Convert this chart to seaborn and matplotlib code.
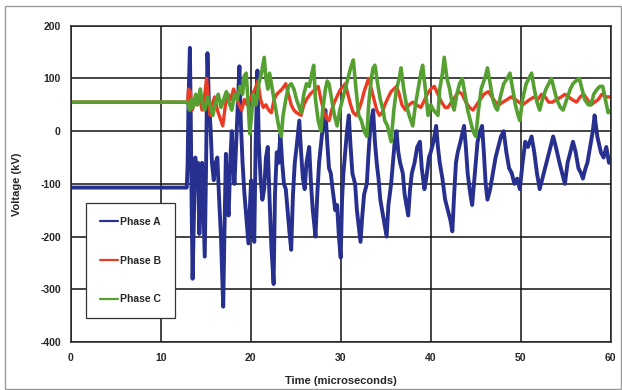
import numpy as np
import pandas as pd
import matplotlib
matplotlib.use("Agg")
import matplotlib.pyplot as plt
import seaborn as sns
from matplotlib.patches import Rectangle

# ---------------- data ----------------
phase_a_t = [0, 12.9, 13.0, 13.1, 13.25, 13.35, 13.45, 13.55, 13.7, 13.85, 14.0, 14.15, 14.3, 14.45, 14.6, 14.75,
             14.9, 15.05, 15.2, 15.35, 15.55, 15.7, 15.9, 16.1, 16.3, 16.5, 16.7, 16.95, 17.1, 17.25, 17.4, 17.55,
             17.75, 17.9, 18.05, 18.2, 18.4, 18.6, 18.75, 18.9, 19.1, 19.3, 19.5, 19.75, 19.9, 20.05, 20.2, 20.4,
             20.55, 20.75, 20.9, 21.1, 21.3, 21.5, 21.7, 21.9, 22.1, 22.3, 22.55, 22.7, 22.9, 23.1, 23.3, 23.5,
             23.7, 23.9, 24.1, 24.3, 24.5, 24.7, 24.9, 25.1, 25.4, 25.6, 25.8, 26.0, 26.2, 26.5, 26.7, 26.9,
             27.2, 27.4, 27.6, 27.9, 28.1, 28.3, 28.5, 28.7, 28.9, 29.1, 29.4, 29.6, 29.8, 30.0, 30.15, 30.3,
             30.5, 30.7, 30.9, 31.1, 31.3, 31.6, 31.8, 32.0, 32.2, 32.4, 32.6, 32.9, 33.1, 33.3, 33.6, 33.8,
             34.0, 34.2, 34.4, 34.7, 35.1, 35.3, 35.6, 35.8, 36.0, 36.2, 36.4, 36.6, 36.9, 37.1, 37.3, 37.5,
             37.7, 37.9, 38.2, 38.5, 38.8, 39.0, 39.3, 39.5, 39.8, 40.0, 40.3, 40.6, 40.8, 41.0, 41.3, 41.6,
             41.9, 42.2, 42.4, 42.6, 42.8, 43.0, 43.3, 43.7, 43.9, 44.1, 44.4, 44.6, 44.8, 45.0, 45.2, 45.5,
             45.7, 45.9, 46.1, 46.3, 46.6, 46.9, 47.2, 47.5, 47.8, 48.1, 48.4, 48.7, 49.0, 49.3, 49.6, 49.9,
             50.2, 50.5, 50.8, 51.2, 51.5, 51.8, 52.1, 52.4, 52.7, 53.0, 53.3, 53.6, 53.9, 54.3, 54.6, 54.9,
             55.2, 55.5, 55.8, 56.1, 56.4, 56.7, 56.9, 57.2, 57.4, 57.7, 58.0, 58.2, 58.5, 58.9, 59.2, 59.5,
             59.8, 60.0]
phase_a_v = [-107, -107, -60, 60, 158, 20, -150, -280, -160, -50, -90, -60, -195, -120, -60, -150,
             -238, -60, 148, 60, 5, -60, -93, -60, -50, -130, -200, -333, -180, -43, -120, -160,
             -50, 0, -60, -100, -20, 60, 123, 20, -60, -117, -160, -213, -150, -93, -160, -210,
             -30, 115, -20, -90, -130, -110, -50, -30, -130, -220, -290, -120, -40, -60, -5, -60,
             -100, -110, -150, -190, -225, -120, -60, -30, 20, -40, -90, -110, -60, -30, -100, -150,
             -200, -120, -60, -10, 20, 40, -20, -70, -80, -110, -150, -140, -200, -240, -130, -80,
             -40, 0, 30, -30, -80, -100, -150, -180, -210, -160, -120, -100, -40, 10, 40, -20,
             -60, -90, -130, -160, -200, -140, -100, -60, -20, 0, -40, -60, -80, -120, -140, -160,
             -110, -80, -60, -30, -20, -70, -110, -90, -50, -40, -20, 10, -30, -60, -90, -130,
             -150, -170, -190, -120, -60, -40, -20, 10, -30, -80, -120, -140, -100, -60, -20, 0,
             10, -40, -100, -130, -110, -80, -50, -30, -10, 0, -40, -70, -80, -100, -90, -110,
             -60, -20, -30, -10, -40, -80, -110, -90, -70, -50, -30, -10, -30, -60, -80, -100,
             -60, -40, -20, -40, -70, -80, -90, -70, -60, -30, 0, 30, -10, -40, -50, -30,
             -60, -50]

phase_b_t = [0, 13.0, 13.1, 13.3, 13.5, 13.8, 14.0, 14.3, 14.6, 14.9, 15.1, 15.3, 15.5, 15.7, 16.0, 16.3,
             16.6, 16.9, 17.2, 17.5, 17.8, 18.1, 18.4, 18.7, 19.0, 19.3, 19.6, 19.9, 20.2, 20.5, 20.8, 21.1,
             21.4, 21.7, 22.0, 22.3, 22.6, 22.9, 23.2, 23.5, 23.9, 24.2, 24.5, 24.8, 25.1, 25.6, 25.9, 26.2,
             26.6, 26.9, 27.2, 27.5, 27.8, 28.1, 28.4, 28.7, 29.0, 29.3, 29.7, 30.0, 30.3, 30.5, 30.8, 31.1,
             31.4, 31.7, 32.0, 32.3, 32.6, 32.9, 33.1, 33.4, 33.7, 34.0, 34.3, 34.6, 34.9, 35.3, 35.6, 35.9,
             36.2, 36.5, 36.8, 37.2, 37.6, 38.0, 38.4, 38.9, 39.2, 39.6, 40.0, 40.4, 40.8, 41.2, 41.6, 41.9,
             42.3, 42.7, 43.1, 43.5, 43.9, 44.3, 44.7, 45.1, 45.5, 45.9, 46.4, 46.8, 47.2, 47.6, 48.0, 48.5,
             48.9, 49.4, 49.8, 50.2, 50.6, 51.0, 51.5, 51.9, 52.3, 52.7, 53.1, 53.5, 54.0, 54.5, 54.9, 55.3,
             55.7, 56.2, 56.6, 57.0, 57.4, 57.8, 58.2, 58.6, 59.0, 59.5, 60.0]
phase_b_v = [55, 55, 80, 75, 40, 55, 50, 65, 40, 70, 100, 60, 30, 50, 65, 40,
             25, 10, 50, 70, 60, 80, 65, 50, 40, 60, 50, 60, 70, 80, 95, 60,
             45, 50, 40, 35, 60, 70, 75, 80, 90, 70, 50, 40, 35, 30, 50, 60,
             70, 75, 80, 85, 60, 40, 25, 20, 40, 55, 70, 80, 85, 90, 70, 50,
             35, 30, 40, 55, 75, 90, 100, 80, 60, 40, 30, 35, 50, 65, 75, 80,
             85, 70, 50, 40, 50, 55, 50, 45, 55, 70, 80, 85, 70, 55, 45, 45,
             55, 65, 75, 70, 55, 45, 40, 50, 60, 70, 75, 65, 55, 50, 55, 60,
             65, 60, 55, 50, 55, 60, 65, 60, 70, 65, 55, 55, 60, 65, 70, 65,
             60, 55, 65, 70, 60, 50, 55, 60, 70, 65, 65]

phase_c_t = [0, 13.0, 13.2, 13.4, 13.6, 13.9, 14.1, 14.4, 14.6, 14.9, 15.2, 15.5, 15.8, 16.1, 16.4, 16.7,
             17.0, 17.3, 17.6, 17.9, 18.2, 18.5, 18.8, 19.1, 19.3, 19.5, 19.7, 19.9, 20.1, 20.3, 20.6, 20.9,
             21.2, 21.5, 21.7, 21.9, 22.1, 22.3, 22.6, 22.9, 23.1, 23.4, 23.6, 23.9, 24.2, 24.5, 24.8, 25.1,
             25.4, 25.6, 25.9, 26.2, 26.5, 26.8, 27.0, 27.2, 27.5, 27.8, 28.0, 28.3, 28.5, 28.7, 29.0, 29.3,
             29.6, 29.9, 30.2, 30.5, 30.8, 31.1, 31.4, 31.7, 32.0, 32.3, 32.6, 32.9, 33.1, 33.4, 33.6, 33.8,
             34.1, 34.4, 34.7, 34.9, 35.2, 35.6, 35.9, 36.2, 36.5, 36.7, 37.0, 37.3, 37.6, 38.0, 38.3, 38.6,
             38.9, 39.1, 39.4, 39.7, 40.0, 40.3, 40.8, 41.0, 41.3, 41.5, 41.8, 42.1, 42.4, 42.6, 42.9, 43.2,
             43.5, 43.8, 44.1, 44.4, 44.7, 45.0, 45.3, 45.6, 46.0, 46.3, 46.6, 46.9, 47.2, 47.4, 47.8, 48.1,
             48.5, 48.8, 49.1, 49.4, 49.7, 49.9, 50.2, 50.6, 50.9, 51.2, 51.5, 51.8, 52.1, 52.4, 52.8, 53.1,
             53.4, 53.7, 54.0, 54.4, 54.7, 55.1, 55.5, 55.8, 56.1, 56.5, 56.8, 57.1, 57.5, 57.8, 58.1, 58.5,
             58.8, 59.1, 59.4, 59.7, 60.0]
phase_c_v = [55, 55, 40, 60, 45, 70, 50, 80, 55, 40, 65, 50, 30, 55, 70, 45,
             60, 75, 55, 40, 70, 60, 85, 70, 105, 110, 60, -5, 30, 70, 50, 90,
             110, 140, 100, 80, 110, 90, 60, 30, 10, -10, 30, 60, 85, 90, 80, 60,
             45, 35, 70, 90, 85, 110, 125, 60, 20, 0, 40, 80, 95, 90, 60, 30,
             10, 40, 60, 80, 100, 120, 135, 80, 30, 20, 0, -10, 50, 100, 120, 125,
             90, 60, 40, 20, 10, -20, 40, 80, 100, 120, 80, 50, 30, 10, 50, 80,
             110, 125, 80, 30, 50, 40, 30, 80, 110, 140, 100, 80, 50, 40, 70, 90,
             100, 70, 40, 20, 0, -10, 40, 80, 100, 120, 90, 60, 45, 40, 70, 90,
             100, 110, 80, 50, 30, 20, 60, 90, 100, 110, 80, 55, 40, 60, 80, 90,
             100, 80, 60, 45, 40, 60, 80, 90, 95, 100, 80, 60, 50, 50, 70, 80,
             85, 85, 60, 35, 40]

series_names = ["Phase A", "Phase B", "Phase C"]
series_colors = ["#28308f", "#ec3b24", "#55a030"]
series_widths = [2.8, 2.4, 2.6]
x_ticks = [0, 10, 20, 30, 40, 50, 60]
y_ticks = [-400, -300, -200, -100, 0, 100, 200]

df = pd.concat([
    pd.DataFrame({"t": phase_a_t, "v": phase_a_v, "phase": series_names[0]}),
    pd.DataFrame({"t": phase_b_t, "v": phase_b_v, "phase": series_names[1]}),
    pd.DataFrame({"t": phase_c_t, "v": phase_c_v, "phase": series_names[2]}),
], ignore_index=True)

# ---------------- figure ----------------
sns.set_theme(style="white")
plt.rcParams["font.family"] = ["Liberation Sans", "DejaVu Sans"]

fig = plt.figure(figsize=(6.22, 3.90), dpi=100)
fig.patch.set_facecolor("white")
ax = fig.add_axes([0.1135, 0.123, 0.8685, 0.811])

sns.lineplot(data=df, x="t", y="v", hue="phase", hue_order=series_names,
             palette=series_colors, estimator=None, sort=False, linewidth=2.4,
             ax=ax, legend=True)
for line, lw in zip(ax.get_lines(), series_widths):
    line.set_linewidth(lw)
    line.set_solid_joinstyle("round")

ax.set_xlim(0, 60)
ax.set_ylim(-400, 200)
ax.set_xticks(x_ticks)
ax.set_yticks(y_ticks)
ax.set_xticklabels([str(v) for v in x_ticks], fontweight="bold", fontsize=7.5)
ax.set_yticklabels([str(v) for v in y_ticks], fontweight="bold", fontsize=7.5)
ax.grid(True, color="#111111", linewidth=1.1)
ax.set_axisbelow(True)
for s in ax.spines.values():
    s.set_color("#222222")
    s.set_linewidth(1.1)
ax.tick_params(axis="y", direction="out", length=5, width=1.0, color="#222222", pad=2)
ax.tick_params(axis="x", length=0, pad=8)

ax.set_xlabel("Time (microseconds)", fontweight="bold", fontsize=8, labelpad=9)
ax.set_ylabel("Voltage (kV)", fontweight="bold", fontsize=8, labelpad=13)

leg = ax.legend(loc="upper left", bbox_to_anchor=(0.029, 0.440), borderaxespad=0,
                frameon=True, fancybox=False, labelspacing=2.75,
                handlelength=1.7, handletextpad=0.15, borderpad=1.35,
                prop={"weight": "bold", "size": 7.5})
leg.get_frame().set_edgecolor("#333333")
leg.get_frame().set_linewidth(0.9)
leg.get_frame().set_alpha(1)
for line in leg.get_lines():
    line.set_linewidth(1.6)

# outer grey border of the picture
fig.add_artist(Rectangle((5 / 622, 1 / 390), 616 / 622, 383 / 390, transform=fig.transFigure,
                         fill=False, edgecolor="#9a9a9a", linewidth=1.0))

fig.savefig("out.png", dpi=100)
